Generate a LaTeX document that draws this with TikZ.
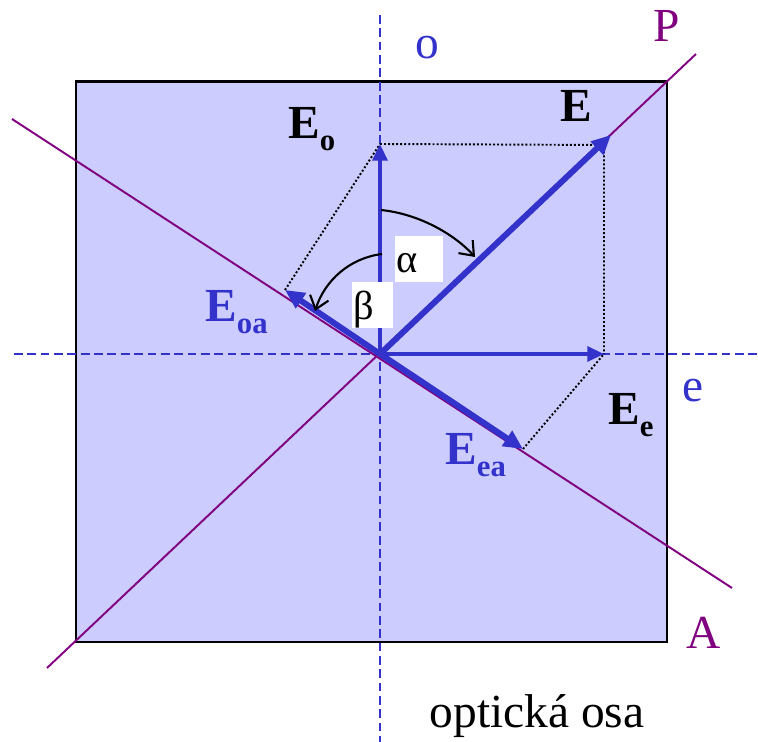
\documentclass[tikz,border=0pt]{standalone}
\usepackage{fontspec}
\setmainfont{Liberation Serif}
\usepackage{xcolor}
\usetikzlibrary{arrows.meta,positioning,calc}
\definecolor{vecblue}{HTML}{3333CC}
\definecolor{polpurple}{HTML}{800080}
\definecolor{plate}{HTML}{CCCCFF}
\newcommand{\lsub}[1]{\raisebox{-6.5pt}{\fontsize{17.5}{17.5}\selectfont #1}}

\begin{document}
\begin{tikzpicture}[x=0.02cm,y=-0.02cm,
	axis/.style={vecblue,line width=1.4pt,dash pattern=on 5pt off 2.6pt},
	pol/.style={polpurple,line width=1.1pt},
	vec/.style={vecblue,line width=2pt,-{Triangle[length=9.5pt,width=8.5pt]}},
	bigvec/.style={vecblue,line width=3.4pt,-{Triangle[length=11pt,width=10pt]}},
	proj/.style={line width=1.1pt,dash pattern=on 1.1pt off 1.2pt},
	angarrow/.style={line width=1.2pt,-{Straight Barb[length=7pt,width=11pt]}},
	anglebox/.style={fill=white,inner sep=0pt,minimum height=26.2pt},
	lbl/.style={font=\fontsize{27}{30}\selectfont,inner sep=0pt,anchor=base west},
	greek/.style={font=\fontsize{23}{26}\selectfont,inner sep=0pt,anchor=base west}]
	\useasboundingbox (0,0) rectangle (758,742);
	
	% plate
	\filldraw[fill=plate,line width=1.7pt] (76,82) rectangle (667,642);
	
	\coordinate (O) at (380,354);
	\coordinate (oTop) at (380,15);
	\coordinate (oBot) at (380,742);
	\coordinate (eLeft) at (14,354);
	\coordinate (eRight) at (758,354);
	\coordinate (Pa) at (47,668);
	\coordinate (Pb) at (696,54);
	\coordinate (Aa) at (12,119);
	\coordinate (Ab) at (732,588);
	
	\coordinate (Eo) at (380,144);
	\coordinate (E) at (611,135);
	\coordinate (Ee) at (604,354);
	\coordinate (Eoa) at (285,290);
	\coordinate (Eea) at (523,449);
	\coordinate (corner) at (604,145);
	
	\draw[axis] (oTop) -- (oBot);
	\draw[axis] (eLeft) -- (eRight);
	\draw[pol] (Pa) -- (Pb);
	\draw[pol] (Aa) -- (Ab);
	
	% projections
	\draw[proj] (Eo) -- (corner) -- (Ee);
	\draw[proj] (Eoa) -- (Eo);
	\draw[proj] (Eea) -- (Ee);
	
	% vectors
	\draw[vec] (O) -- (Eo);
	\draw[vec] (O) -- (Ee);
	\draw[bigvec] (O) -- (E);
	\draw[bigvec] (O) -- (Eoa);
	\draw[bigvec] (O) -- (Eea);
	
	% angles
	\coordinate (alphaStart) at (381,210);
	\coordinate (alphaEnd) at (475,257);
	\coordinate (betaStart) at (382,254);
	\coordinate (betaEnd) at (315,311);
	\draw[angarrow] (alphaStart) .. controls (420,214) and (455,235) .. (alphaEnd);
	\draw[angarrow] (betaStart) .. controls (350,258) and (325,280) .. (betaEnd);
	\node[anglebox,minimum width=27.3pt] (alphabox) at (419,259) {};
	\node[anglebox,minimum width=23.3pt] (betabox) at (372.5,305) {};
	\node[greek] (alpha) at (396,273) {α};
	\node[greek] (beta) at (353,320) {β};
	
	% labels
	\node[lbl] (Eolbl) at (288,139) {\bfseries E\lsub{o}};
	\node[lbl] (Elbl) at (560,122) {\bfseries E};
	\node[lbl,vecblue] (Eoalbl) at (205,322) {\bfseries E\lsub{oa}};
	\node[lbl,vecblue] (Eealbl) at (445,465) {\bfseries E\lsub{ea}};
	\node[lbl] (Eelbl) at (608,425) {\bfseries E\lsub{e}};
	\node[lbl,anchor=base,vecblue] (olbl) at (427,59) {o};
	\node[lbl,anchor=base,vecblue] (elbl) at (693,402) {e};
	\node[lbl,anchor=base,polpurple] (Plbl) at (667,42) {P};
	\node[lbl,anchor=base,polpurple] (Albl) at (704,649) {A};
	\node[lbl,anchor=base] (osa) at (537,728) {optická osa};
\end{tikzpicture}
\end{document}
